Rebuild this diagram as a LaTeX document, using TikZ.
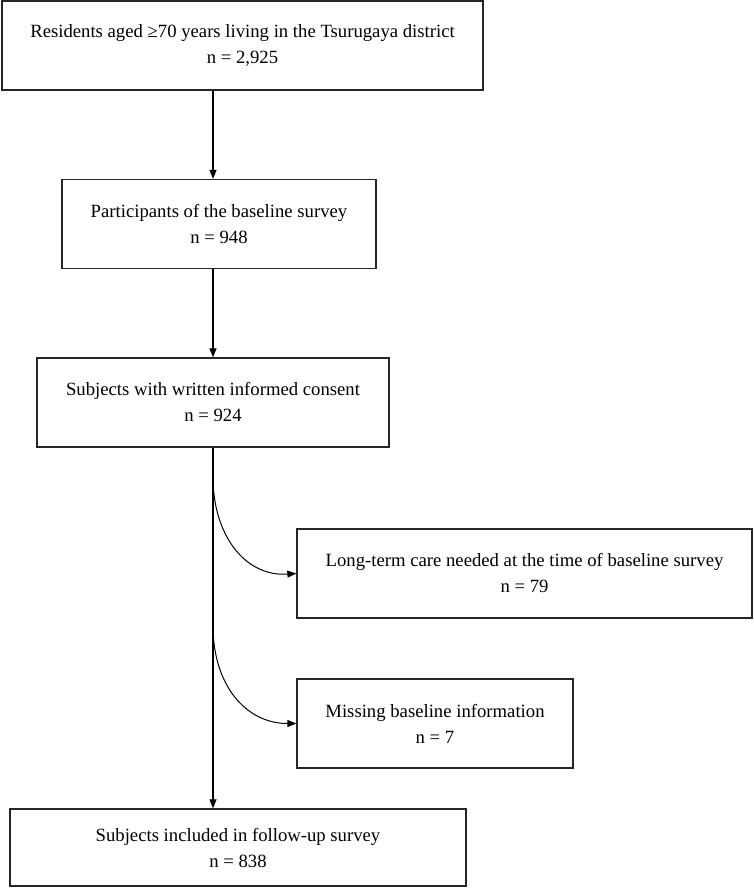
\documentclass[tikz,border=0pt]{standalone}
\usepackage{fontspec}
\setmainfont{Liberation Serif}
\usetikzlibrary{arrows.meta}
\begin{document}
\begin{tikzpicture}[x=1pt,y=-1pt,
  box/.style={draw=black!85,line width=1.3pt,align=center,inner sep=0pt,font=\fontsize{18.7}{26}\selectfont},
  conn/.style={line width=1.2pt,-{Triangle[length=9pt,width=7pt]}},
  curv/.style={line width=1pt,-{Triangle[length=9pt,width=7pt]}}]
\useasboundingbox (0,0) rectangle (754,888);
\node[box,minimum width=481pt,minimum height=89pt] (b1) at (242.5,45.5) {Residents aged ≥70 years living in the Tsurugaya district\\n = 2,925};
\node[box,minimum width=314pt,minimum height=89pt] (b2) at (219,224) {Participants of the baseline survey\\n = 948};
\node[box,minimum width=352pt,minimum height=89pt] (b3) at (213,402.5) {Subjects with written informed consent\\n = 924};
\node[box,minimum width=455pt,minimum height=89pt] (b4) at (524.5,573.5) {Long-term care needed at the time of baseline survey\\n = 79};
\node[box,minimum width=276pt,minimum height=89pt] (b5) at (435,723.5) {Missing baseline information\\n = 7};
\node[box,minimum width=456pt,minimum height=77pt] (b6) at (238,847.5) {Subjects included in follow-up survey\\n = 838};
\coordinate (ax) at (213,0);
\coordinate (c1) at (213,477);
\coordinate (c2) at (213,626);
\draw[conn] (b1.south -| ax) -- (b2.north -| ax);
\draw[conn] (b2.south -| ax) -- (b3.north -| ax);
\draw[conn] (b3.south -| ax) -- (b6.north -| ax);
\draw[curv] (c1) .. controls (213,535) and (245,577) .. (b4.west);
\draw[curv] (c2) .. controls (213,684) and (245,723.5) .. (b5.west);
\end{tikzpicture}
\end{document}
